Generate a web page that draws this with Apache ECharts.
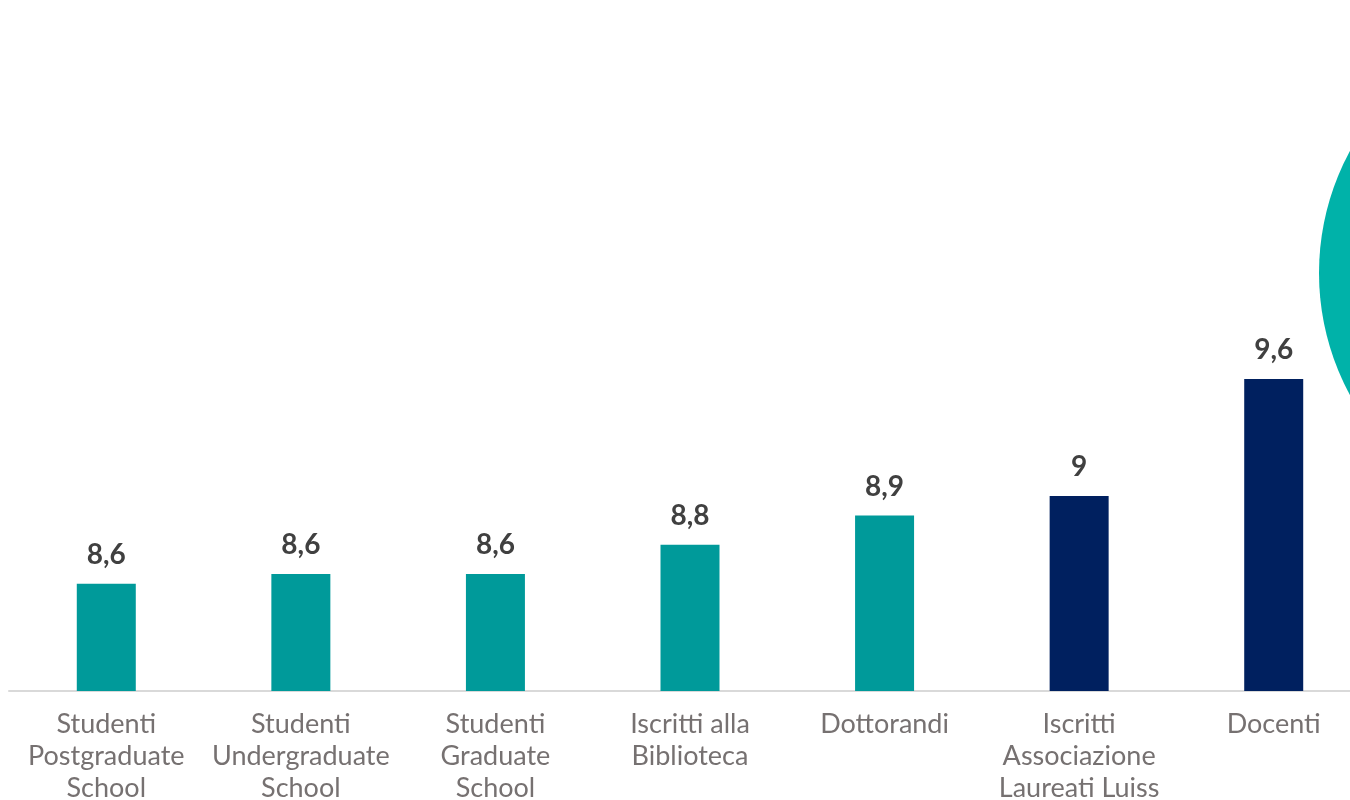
<!DOCTYPE html>
<html>
<head>
<meta charset="utf-8">
<script src="https://cdn.jsdelivr.net/npm/echarts@6/dist/echarts.min.js"></script>
<style>html,body{margin:0;padding:0;background:#fff;overflow:hidden}#c{width:1372px;height:800px}</style>
</head>
<body>
<div id="c"></div>
<script>
const categories = ["Studenti\nPostgraduate\nSchool","Studenti\nUndergraduate\nSchool","Studenti\nGraduate\nSchool","Iscritti alla\nBiblioteca","Dottorandi","Iscritti\nAssociazione\nLaureati Luiss","Docenti"];
const values = [8.55, 8.6, 8.6, 8.75, 8.9, 9.0, 9.6];
const valueLabels = ["8,6","8,6","8,6","8,8","8,9","9","9,6"];
const barColors = ["#009A9A","#009A9A","#009A9A","#009A9A","#009A9A","#00205F","#00205F"];

const chart = echarts.init(document.getElementById('c'));
chart.setOption({
  animation: false,
  grid: {left: 9, top: 301, width: 1362, height: 390, outerBoundsMode: 'none', containLabel: false},
  xAxis: {
    type: 'category', data: categories,
    axisLine: {lineStyle: {color: '#D9D9D9', width: 2}},
    axisTick: {show: false},
    axisLabel: {color: '#767171', fontFamily: 'Lato', fontSize: 27, lineHeight: 32, margin: 17, interval: 0}
  },
  yAxis: {type: 'value', min: 8, max: 10, show: false, splitLine: {show: false}},
  series: [{
    type: 'bar', barWidth: 59,
    data: values.map((v,i)=>({value: v, itemStyle: {color: barColors[i]}})),
    label: {show: true, position: 'top', distance: 15, color: '#404040', fontFamily: 'Lato', fontWeight: 'bold', fontSize: 28,
      formatter: p => valueLabels[p.dataIndex]}
  }],
  graphic: [{type: 'circle', shape: {cx: 1575, cy: 273, r: 256}, style: {fill: '#00B2A9'}, z: -1}]
});
</script>
</body>
</html>
